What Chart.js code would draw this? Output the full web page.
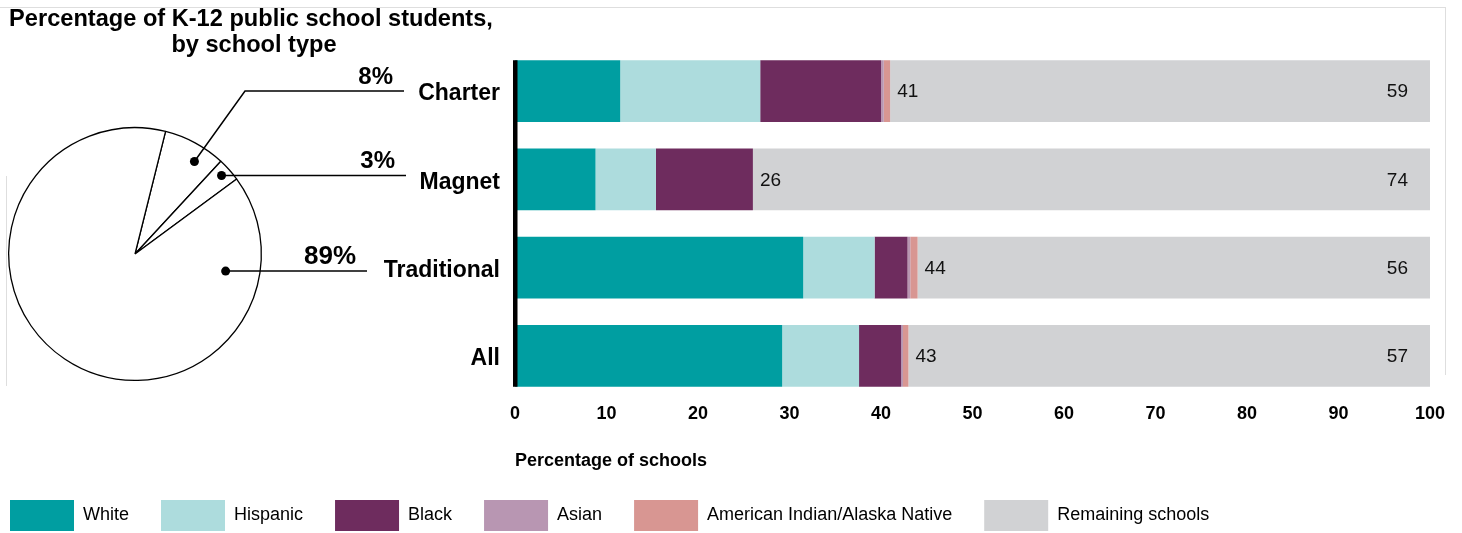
<!DOCTYPE html>
<html>
<head>
<meta charset="utf-8">
<script src="https://cdn.jsdelivr.net/npm/chart.js@4.4.1/dist/chart.umd.min.js"></script>
<style>
  html, body { margin: 0; padding: 0; background: #fff; }
  #wrap { position: relative; width: 1462px; height: 533px; overflow: hidden; }
  #barChart, #pieChart { position: absolute; left: 0; top: 0; }
  .edge { position: absolute; background: #dedede; }
</style>
</head>
<body>
<div id="wrap">
  <div class="edge" style="left:0;top:7px;width:1445px;height:1px"></div>
  <div class="edge" style="left:1445px;top:7px;width:1px;height:368px"></div>
  <div class="edge" style="left:6px;top:176px;width:1px;height:210px"></div>
  <canvas id="barChart" width="1462" height="533"></canvas>
  <canvas id="pieChart" width="520" height="400"></canvas>
</div>
<script>
// bar chart data (percentage of schools)
const schoolTypes = ['Charter', 'Magnet', 'Traditional', 'All'];
const white = [11.5, 8.8, 31.5, 29.2];
const hispanic = [15.3, 6.6, 7.8, 8.4];
const black = [13.2, 10.6, 3.6, 4.6];
const asian = [0.3, 0, 0.3, 0.2];
const amIndian = [0.7, 0, 0.8, 0.6];
const remaining = [59, 74, 56, 57];
const minorityTotals = [41, 26, 44, 43];
const xTickLabels = ['0', '10', '20', '30', '40', '50', '60', '70', '80', '90', '100'];

// pie data (percentage of students)
const pieTypes = ['Charter', 'Magnet', 'Traditional'];
const pieShares = [8, 3, 89];

const FONT = 'Liberation Sans, Arial, sans-serif';

// black axis line along the left of the bars
const axisLine = {
  id: 'axisLine',
  afterDatasetsDraw(chart) {
    const bars = chart.getDatasetMeta(0).data;
    const first = bars[0], last = bars[bars.length - 1];
    const ctx = chart.ctx;
    ctx.save();
    ctx.fillStyle = '#000';
    ctx.fillRect(chart.chartArea.left - 2, first.y - first.height / 2, 4.5,
      (last.y + last.height / 2) - (first.y - first.height / 2));
    ctx.restore();
  }
};

// numbers after the minority stack and at the end of the grey bar
const valueLabels = {
  id: 'valueLabels',
  afterDatasetsDraw(chart) {
    const ctx = chart.ctx;
    const endMeta = chart.getDatasetMeta(4).data;
    const restMeta = chart.getDatasetMeta(5).data;
    ctx.save();
    ctx.fillStyle = '#111';
    ctx.font = '19px ' + FONT;
    ctx.textBaseline = 'middle';
    endMeta.forEach((bar, i) => {
      ctx.textAlign = 'left';
      ctx.fillText(String(minorityTotals[i]), bar.x + 7, bar.y + 1);
      const r = restMeta[i];
      ctx.textAlign = 'right';
      ctx.fillText(String(remaining[i]), r.x - 22, r.y + 1);
    });
    ctx.restore();
  }
};

new Chart(document.getElementById('barChart').getContext('2d'), {
  type: 'bar',
  data: {
    labels: schoolTypes,
    datasets: [
      { label: 'White', data: white, backgroundColor: '#009ea1' },
      { label: 'Hispanic', data: hispanic, backgroundColor: '#addcdd' },
      { label: 'Black', data: black, backgroundColor: '#6e2c5e' },
      { label: 'Asian', data: asian, backgroundColor: '#b896b2' },
      { label: 'American Indian/Alaska Native', data: amIndian, backgroundColor: '#d89692' },
      { label: 'Remaining schools', data: remaining, backgroundColor: '#d1d2d4' }
    ]
  },
  options: {
    indexAxis: 'y',
    responsive: false,
    animation: false,
    layout: { padding: { top: 47, right: 32, left: -22, bottom: -8 } },
    datasets: { bar: { categoryPercentage: 1, barPercentage: 0.7, borderWidth: 0 } },
    scales: {
      x: {
        stacked: true,
        min: 0,
        max: 100,
        grid: { display: false, drawTicks: false },
        border: { display: false },
        ticks: {
          stepSize: 10,
          color: '#000',
          padding: 3,
          font: { family: FONT, size: 18, weight: 'bold' },
          callback: (v, i) => xTickLabels[i]
        },
        title: {
          display: true,
          text: 'Percentage of schools',
          align: 'start',
          color: '#000',
          font: { family: FONT, size: 18, weight: 'bold' },
          padding: { top: 20, bottom: -4 }
        },
        afterFit(scale) { scale.height = 68; }
      },
      y: {
        stacked: true,
        grid: { display: false, drawTicks: false },
        border: { display: false },
        ticks: { color: '#000', padding: 15, labelOffset: 3, font: { family: FONT, size: 23, weight: 'bold' } },
        afterFit(scale) { scale.width = 537; }
      }
    },
    plugins: {
      legend: {
        position: 'bottom',
        align: 'start',
        labels: {
          boxWidth: 64,
          boxHeight: 31,
          padding: 32,
          color: '#000',
          font: { family: FONT, size: 18 }
        }
      },
      tooltip: { enabled: false }
    }
  },
  plugins: [axisLine, valueLabels]
});

// callouts on the pie: where the dot sits inside each slice, where its line ends
const callouts = [
  { frac: 0.65, r: 0.87, elbowX: 245, lineY: 91, endX: 404, size: 24 },
  { frac: 0.46, r: 0.925, endX: 406, size: 24 },
  { frac: 0.147, r: 0.73, endX: 367, size: 26 }
];

const pieNotes = {
  id: 'pieNotes',
  afterDraw(chart) {
    const ctx = chart.ctx;
    ctx.save();
    ctx.fillStyle = '#000';
    ctx.textAlign = 'center';
    ctx.textBaseline = 'alphabetic';
    ctx.font = 'bold 23.6px ' + FONT;
    ctx.fillText('Percentage of K-12 public school students,', 251, 26);
    ctx.fillText('by school type', 254, 52);

    chart.getDatasetMeta(0).data.forEach((arc, i) => {
      const c = callouts[i];
      const a = arc.startAngle + c.frac * (arc.endAngle - arc.startAngle);
      const dx = arc.x + Math.cos(a) * arc.outerRadius * c.r;
      const dy = arc.y + Math.sin(a) * arc.outerRadius * c.r;
      const ly = c.lineY !== undefined ? c.lineY : dy;
      ctx.beginPath();
      ctx.arc(dx, dy, 4.5, 0, Math.PI * 2);
      ctx.fill();
      ctx.strokeStyle = '#000';
      ctx.lineWidth = 1.5;
      ctx.beginPath();
      ctx.moveTo(dx, dy);
      if (c.elbowX !== undefined) ctx.lineTo(c.elbowX, ly);
      ctx.lineTo(c.endX, ly);
      ctx.stroke();
      ctx.textAlign = 'right';
      ctx.font = 'bold ' + c.size + 'px ' + FONT;
      ctx.fillText(pieShares[i] + '%', c.endX - 11, ly - 7);
    });
    ctx.restore();
  }
};

new Chart(document.getElementById('pieChart').getContext('2d'), {
  type: 'pie',
  data: {
    labels: pieTypes,
    datasets: [{ data: pieShares, backgroundColor: '#fff', borderColor: '#000', borderWidth: 1.3 }]
  },
  options: {
    responsive: false,
    animation: false,
    rotation: 14,
    layout: { padding: { left: 8, right: 258, top: 127, bottom: 19 } },
    plugins: { legend: { display: false }, tooltip: { enabled: false } }
  },
  plugins: [pieNotes]
});
</script>
</body>
</html>
